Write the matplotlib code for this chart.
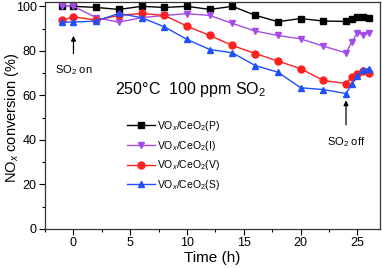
import matplotlib
matplotlib.use("Agg")
import matplotlib.pyplot as plt

plt.rcParams['font.family'] = ['Liberation Sans', 'DejaVu Sans']
plt.rcParams['mathtext.fontset'] = 'custom'
plt.rcParams['mathtext.rm'] = 'Liberation Sans'
plt.rcParams['mathtext.it'] = 'Liberation Sans:italic'

# time points (h)
time = [-1, 0, 2, 4, 6, 8, 10, 12, 14, 16, 18, 20, 22, 24, 24.5, 25, 25.5, 26]

# NOx conversion (%)
conv_p = [100, 100, 99.5, 98.6, 100, 99.5, 100, 98.6, 100, 96, 93.1, 94.5, 93.4, 93.2, 94.3, 95, 95.3, 94.6]
conv_i = [100, 100, 94.9, 92.9, 94.9, 95.9, 96.7, 95.9, 92.3, 88.9, 86.9, 85.4, 82.1, 79.1, 83.9, 88.1, 87.2, 87.8]
conv_v = [93.8, 95.3, 93.8, 95.9, 96.8, 95.9, 91.1, 86.9, 82.4, 78.8, 75.4, 72, 66.7, 65.3, 68.3, 69.4, 70.9, 70.1]
conv_s = [92.9, 92.9, 93.4, 96.8, 94.9, 90.8, 85.1, 80.6, 79.1, 73.4, 70.4, 63.4, 62.6, 60.8, 64.9, 68.6, 71.5, 72]

labels = ["VO$_x$/CeO$_2$(P)", "VO$_x$/CeO$_2$(I)", "VO$_x$/CeO$_2$(V)", "VO$_x$/CeO$_2$(S)"]

fig = plt.figure(figsize=(3.82, 2.68), dpi=100)
ax = fig.add_axes([0.118, 0.146, 0.877, 0.847])

ax.plot(time, conv_p, '-s', color='black', lw=1, ms=4, label=labels[0])
ax.plot(time, conv_i, '-v', color='#A64CE8', lw=1, ms=5, label=labels[1])
ax.plot(time, conv_v, '-o', color='#FF2020', lw=1, ms=5, label=labels[2])
ax.plot(time, conv_s, '-^', color='#1E50FF', lw=1, ms=5, label=labels[3])

ax.set_xlim(-2, 27)
ax.set_ylim(0, 102)
ax.set_xticks([0, 5, 10, 15, 20, 25])
ax.set_xticks([-2.5, 2.5, 7.5, 12.5, 17.5, 22.5], minor=True)
ax.set_yticks([0, 20, 40, 60, 80, 100])
ax.set_yticks([10, 30, 50, 70, 90], minor=True)
ax.tick_params(which='major', direction='out', length=4, width=0.8, labelsize=9, pad=2)
ax.tick_params(which='minor', direction='out', length=2, width=0.8)
for s in ax.spines.values():
    s.set_linewidth(0.9)
    s.set_color('#333333')

ax.set_xlabel("Time (h)", fontsize=11, labelpad=1)
ax.set_ylabel("NO$_x$ conversion (%)", fontsize=10.5)
ax.yaxis.set_label_coords(-0.072, 0.49)

ax.annotate("", xy=(0, 88), xytext=(0, 77.5),
            arrowprops=dict(arrowstyle='-|>', color='black', lw=0.9, mutation_scale=7))
ax.text(0, 71.5, "SO$_2$ on", ha='center', va='center', fontsize=8)
ax.annotate("", xy=(24, 59), xytext=(24, 45.5),
            arrowprops=dict(arrowstyle='-|>', color='black', lw=0.9, mutation_scale=7))
ax.text(24, 39, "SO$_2$ off", ha='center', va='center', fontsize=8)
ax.text(3.65, 62.5, "250\u00b0C  100 ppm SO$_2$", ha='left', va='center', fontsize=11.5)

ax.legend(loc='upper left', bbox_to_anchor=(0.245, 0.485), frameon=False, fontsize=7.5,
          borderpad=0, borderaxespad=0, handlelength=2.7, handletextpad=0.2, labelspacing=0.55)

fig.savefig("out.png", dpi=100)
